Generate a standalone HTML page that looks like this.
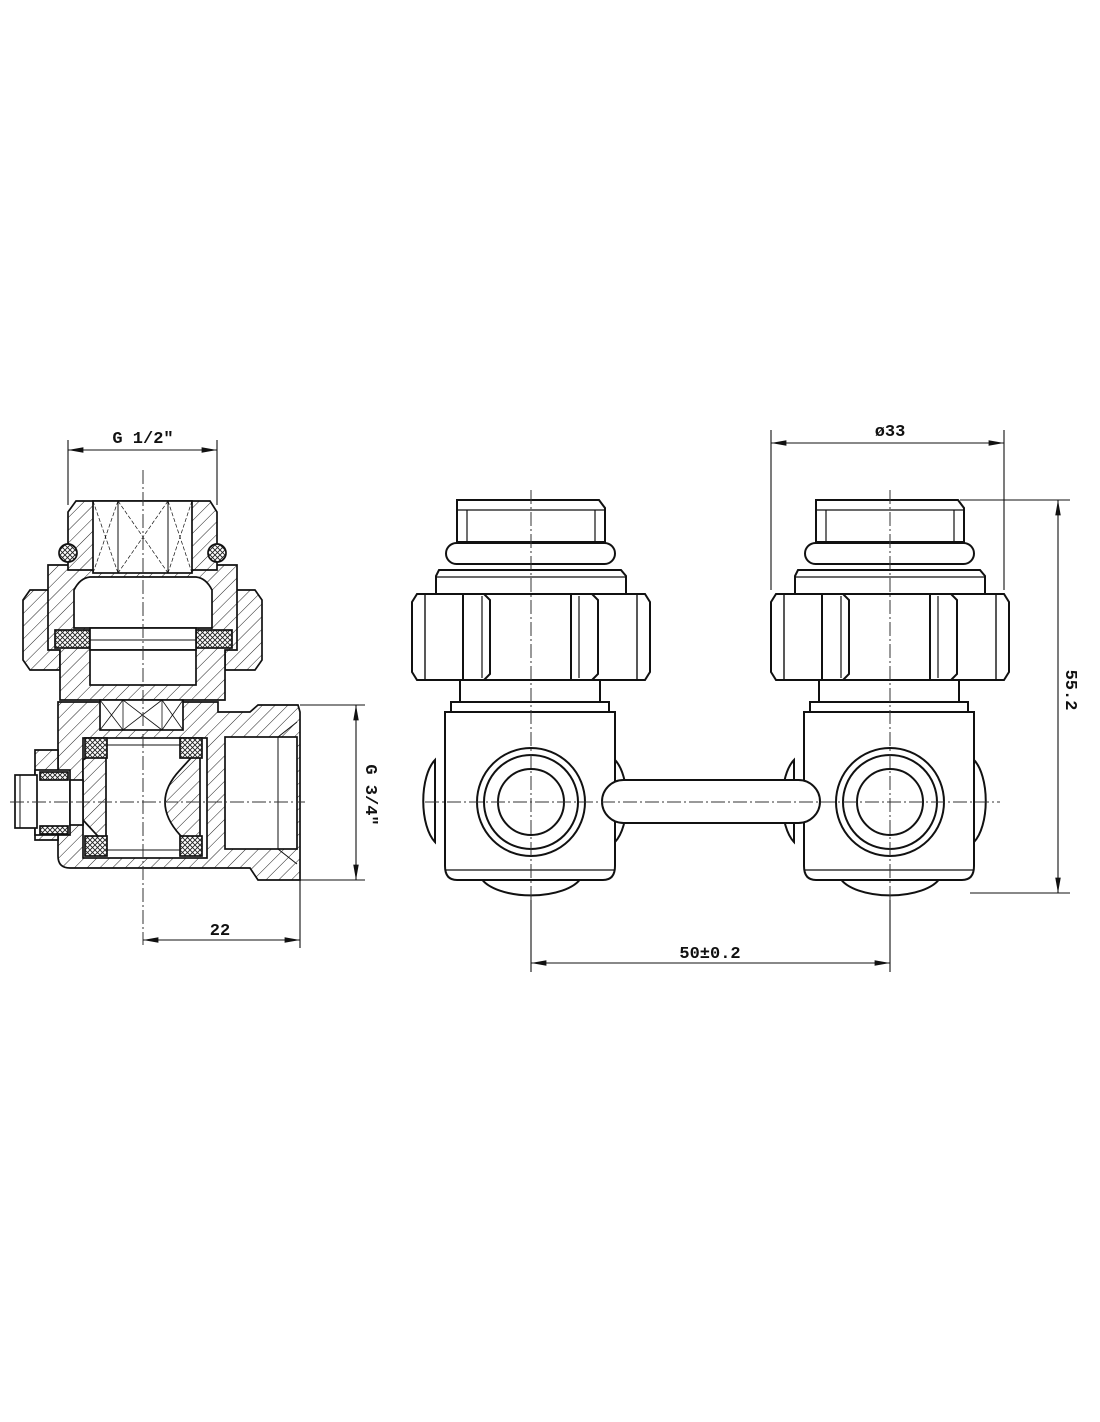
<!DOCTYPE html>
<html><head><meta charset="utf-8"><style>
html,body{margin:0;padding:0;background:#fff}
svg{display:block}
text{font-family:"Liberation Mono",monospace;font-size:17px;font-weight:bold;fill:#111}
</style></head><body>
<svg width="1100" height="1422" viewBox="0 0 1100 1422" xmlns="http://www.w3.org/2000/svg">
<defs>
<pattern id="h" width="9" height="9" patternUnits="userSpaceOnUse" patternTransform="rotate(45)"><rect width="9" height="9" fill="#fff"/><line x1="0" y1="0" x2="0" y2="9" stroke="#222" stroke-width="1"/></pattern>
<pattern id="x" width="5" height="5" patternUnits="userSpaceOnUse"><rect width="5" height="5" fill="#fff"/><path d="M0 0L5 5M5 0L0 5" stroke="#222" stroke-width="0.9"/></pattern>
<marker id="a" markerWidth="14" markerHeight="8" refX="14" refY="4" orient="auto"><path d="M0 1.5L14 4L0 6.5Z" fill="#111"/></marker>
<marker id="b" markerWidth="14" markerHeight="8" refX="0" refY="4" orient="auto"><path d="M14 1.5L0 4L14 6.5Z" fill="#111"/></marker>
<g id="valve" fill="#fff" stroke="#111" stroke-width="2">
 <path d="M-96 760 A20 45 0 0 0 -96 842 Z"/>
 <path d="M84 760 A20 45 0 0 1 84 842 Z"/>
 <path d="M-50 878 A52 24 0 0 0 50 878 Z"/>
 <path d="M-74 500 L68 500 L74 508 L74 542 L-74 542 L-74 508 Z"/>
 <line x1="-74" y1="510" x2="74" y2="510" stroke-width="1.2"/>
 <line x1="-64" y1="510" x2="-64" y2="542" stroke-width="1.2"/><line x1="64" y1="510" x2="64" y2="542" stroke-width="1.2"/>
 <rect x="-85" y="543" width="169" height="21" rx="10.5"/>
 <path d="M-92 570 L90 570 L95 576 L95 595 L-95 595 L-95 576 Z"/>
 <line x1="-95" y1="577" x2="95" y2="577" stroke-width="1.2"/>
 <rect x="-71" y="680" width="140" height="24"/>
 <rect x="-80" y="702" width="158" height="11"/>
 <path d="M-86 712 L84 712 L84 866 Q84 880 72 880 L-74 880 Q-86 880 -86 866 Z"/>
 <line x1="-86" y1="870" x2="84" y2="870" stroke-width="1.2"/>
 <path d="M-114 594 L114 594 L119 602 L119 672 L114 680 L-114 680 L-119 672 L-119 602 Z"/>
 <line x1="-106" y1="594" x2="-106" y2="680" stroke-width="1.4"/><line x1="106" y1="594" x2="106" y2="680" stroke-width="1.4"/>
 <path d="M-68 594 L-47 594 L-41 600 L-41 674 L-47 680 L-68 680 Z"/>
 <line x1="-49" y1="596" x2="-49" y2="678" stroke-width="1.2"/>
 <path d="M40 594 L61 594 L67 600 L67 674 L61 680 L40 680 Z"/>
 <line x1="48" y1="596" x2="48" y2="678" stroke-width="1.2"/>
 <circle cx="0" cy="802" r="54"/><circle cx="0" cy="802" r="47"/><circle cx="0" cy="802" r="33"/>
</g>
</defs>

<use href="#valve" x="531"/>
<use href="#valve" x="890"/>
<rect x="602" y="780" width="218" height="43" rx="21.5" fill="#fff" stroke="#111" stroke-width="2"/>
<g stroke="#333" stroke-width="1" stroke-dasharray="14 3 2 3" fill="none">
<line x1="531" y1="490" x2="531" y2="900"/><line x1="890" y1="490" x2="890" y2="900"/>
<line x1="425" y1="802" x2="1000" y2="802"/>
</g>
<g stroke="#111" stroke-width="1.1" fill="none">
<line x1="771" y1="430" x2="771" y2="590"/><line x1="1004" y1="430" x2="1004" y2="590"/>
<line x1="771" y1="443" x2="1004" y2="443" marker-start="url(#b)" marker-end="url(#a)"/>
<line x1="960" y1="500" x2="1070" y2="500"/><line x1="970" y1="893" x2="1070" y2="893"/>
<line x1="1058" y1="500" x2="1058" y2="893" marker-start="url(#b)" marker-end="url(#a)"/>
<line x1="531" y1="900" x2="531" y2="972"/><line x1="890" y1="900" x2="890" y2="972"/>
<line x1="531" y1="963" x2="890" y2="963" marker-start="url(#b)" marker-end="url(#a)"/>
</g>
<text x="890" y="436" text-anchor="middle">ø33</text>
<text x="710" y="958" text-anchor="middle">50±0.2</text>
<text transform="translate(1066,690) rotate(90)" text-anchor="middle">55.2</text>

<g stroke="#111" stroke-width="1.7">
 <path d="M23 600 L30 590 L60 590 L60 670 L30 670 L23 660 Z" fill="url(#h)"/>
 <path d="M262 600 L255 590 L225 590 L225 670 L255 670 L262 660 Z" fill="url(#h)"/>
 <path d="M48 565 L237 565 L237 650 L225 650 L225 700 L60 700 L60 650 L48 650 Z" fill="url(#h)"/>
 <path d="M76 501 L210 501 L217 512 L217 570 L68 570 L68 512 Z" fill="url(#h)"/>
 <rect x="93" y="501" width="99" height="72" fill="#fff"/>
 <g stroke-width="1"><line x1="118" y1="501" x2="118" y2="573"/><line x1="168" y1="501" x2="168" y2="573"/>
 <path d="M93 501L118 573M118 501L93 573M118 501L168 573M168 501L118 573M168 501L192 573M192 501L168 573" stroke-width="0.7" stroke-dasharray="4 2"/></g>
 <circle cx="68" cy="553" r="9" fill="url(#x)"/><circle cx="217" cy="553" r="9" fill="url(#x)"/>
 <path d="M74 590 Q80 578 90 577 L196 577 Q206 578 212 590 L212 628 L74 628 Z" fill="#fff"/>
 <rect x="55" y="630" width="35" height="18" fill="url(#x)"/><rect x="196" y="630" width="36" height="18" fill="url(#x)"/>
 <rect x="90" y="628" width="106" height="22" fill="#fff"/>
 <line x1="90" y1="640" x2="196" y2="640" stroke-width="1"/>
 <rect x="90" y="650" width="106" height="35" fill="#fff"/>
 <path d="M58 702 L218 702 L218 712 L250 712 L258 705 L298 705 L300 712 L300 880 L258 880 L250 868 L218 868 L70 868 Q58 868 58 856 Z" fill="url(#h)"/>
 <path d="M35 750 L58 750 L58 840 L35 840 Z" fill="url(#h)"/>
 <rect x="225" y="737" width="72" height="112" fill="#fff"/>
 <line x1="278" y1="737" x2="278" y2="849" stroke-width="1"/>
 <path d="M278 737 L297 722" stroke-width="1"/><path d="M278 849 L297 864" stroke-width="1"/>
 <rect x="100" y="700" width="83" height="30" fill="#fff"/>
 <g stroke-width="0.8"><line x1="123" y1="700" x2="123" y2="730"/><line x1="162" y1="700" x2="162" y2="730"/>
 <path d="M100 700L123 730M123 700L100 730M123 700L162 730M162 700L123 730M162 700L183 730M183 700L162 730"/></g>
 <rect x="83" y="738" width="124" height="120" fill="#fff"/>
 <path d="M83 760 L106 745 L106 845 L83 820 Z" fill="url(#h)"/>
 <path d="M200 748 L180 770 Q150 802 180 835 L200 855 Z" fill="url(#h)"/>
 <rect x="85" y="738" width="22" height="20" fill="url(#x)"/><rect x="180" y="738" width="22" height="20" fill="url(#x)"/>
 <rect x="85" y="836" width="22" height="20" fill="url(#x)"/><rect x="180" y="836" width="22" height="20" fill="url(#x)"/>
 <line x1="107" y1="745" x2="180" y2="745" stroke-width="1"/><line x1="107" y1="850" x2="180" y2="850" stroke-width="1"/>
 <rect x="35" y="770" width="35" height="65" fill="#fff"/>
 <rect x="40" y="772" width="28" height="8" fill="url(#x)"/><rect x="40" y="826" width="28" height="8" fill="url(#x)"/>
 <rect x="15" y="775" width="22" height="53" fill="#fff"/>
 <line x1="20" y1="775" x2="20" y2="828" stroke-width="1"/>
 <rect x="70" y="780" width="13" height="45" fill="#fff"/>
</g>
<g stroke="#333" stroke-width="1" stroke-dasharray="14 3 2 3">
 <line x1="143" y1="470" x2="143" y2="945"/><line x1="10" y1="802" x2="305" y2="802"/>
</g>
<g stroke="#111" stroke-width="1.1" fill="none">
 <line x1="68" y1="440" x2="68" y2="505"/><line x1="217" y1="440" x2="217" y2="505"/>
 <line x1="68" y1="450" x2="217" y2="450" marker-start="url(#b)" marker-end="url(#a)"/>
 <line x1="300" y1="705" x2="365" y2="705"/><line x1="300" y1="880" x2="365" y2="880"/>
 <line x1="356" y1="705" x2="356" y2="880" marker-start="url(#b)" marker-end="url(#a)"/>
 <line x1="300" y1="880" x2="300" y2="948"/>
 <line x1="143" y1="940" x2="300" y2="940" marker-start="url(#b)" marker-end="url(#a)"/>
</g>
<text x="143" y="443" text-anchor="middle">G 1/2″</text>
<text x="220" y="935" text-anchor="middle">22</text>
<text transform="translate(366,795) rotate(90)" text-anchor="middle">G 3/4″</text>
</svg>
</body></html>
